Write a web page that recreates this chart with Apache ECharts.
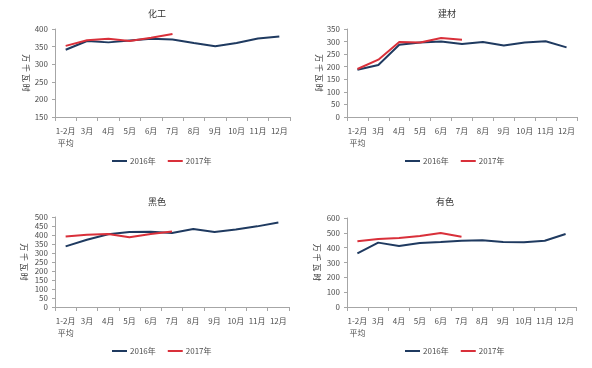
<!DOCTYPE html>
<html><head><meta charset="utf-8">
<script src="https://cdn.jsdelivr.net/npm/echarts@6/dist/echarts.min.js"></script>
<style>html,body{margin:0;padding:0;background:#fff}#c{width:592px;height:368px}</style>
</head><body><div id="c"></div>
<script>
var categories = ['1-2月\n平均','3月','4月','5月','6月','7月','8月','9月','10月','11月','12月'];
var titles = ['化工','建材','黑色','有色'];
var seriesNames = ['2016年','2017年'];
var yUnit = '万 千 瓦 时';
// 化工
var chem2016 = [341,366,362,367,372,370,360,351,360,373,379];
var chem2017 = [352,368,372,366,375,386];
// 建材
var build2016 = [188,207,287,296,300,290,298,284,296,301,277];
var build2017 = [191,228,298,296,314,307];
// 黑色
var ferrous2016 = [337,374,404,417,418,411,433,417,430,448,469];
var ferrous2017 = [391,402,406,387,405,420];
// 有色
var nonfer2016 = [362,434,411,431,438,447,450,438,436,447,492];
var nonfer2017 = [443,458,465,479,499,474];
var yMin = [150,0,0,0];
var yMax = [400,350,500,600];
var yInterval = [50,50,50,100];

var data2016 = [chem2016, build2016, ferrous2016, nonfer2016];
var data2017 = [chem2017, build2017, ferrous2017, nonfer2017];

var grids = [
  {left:55, top:29, width:235, height:88},
  {left:347, top:29, width:230, height:88},
  {left:55, top:217, width:234, height:90},
  {left:347, top:218, width:229, height:89}
];
var nameGaps = [25,22,27,26];
var titlePos = [[152,4],[442,4],[152,192],[440,192]];
var legendPos = [[153,152],[446,152],[153,342],[446,342]];
var C16 = '#1F3A60', C17 = '#D9303A';
var font = 'Noto Sans CJK SC';
var txt = '#4d4d4d';

var option = {
  animation:false,
  textStyle:{fontFamily:font},
  title: titles.map(function(t,i){return {text:t,left:titlePos[i][0],top:titlePos[i][1],textAlign:'center',
    textStyle:{fontSize:9,fontWeight:'normal',color:'#333',fontFamily:font}};}),
  legend: legendPos.map(function(p,i){return {data:seriesNames,left:p[0]-46,top:p[1],itemWidth:15,itemHeight:2,itemGap:12,
    icon:'rect',textStyle:{fontSize:8,color:txt,fontFamily:font,padding:[0,0,0,-2]},selectedMode:false};}),
  grid: grids,
  xAxis: grids.map(function(g,i){return {type:'category',gridIndex:i,data:categories,boundaryGap:true,
    axisLine:{lineStyle:{color:'#a6a6a6'}},axisTick:{show:true,length:4,lineStyle:{color:'#a6a6a6'}},
    axisLabel:{fontSize:8,color:txt,margin:8,interval:0,lineHeight:12,fontFamily:font}};}),
  yAxis: grids.map(function(g,i){return {type:'value',gridIndex:i,min:yMin[i],max:yMax[i],interval:yInterval[i],
    name:yUnit,nameLocation:'middle',nameRotate:-90,nameGap:nameGaps[i],nameTextStyle:{fontSize:8,color:'#333',fontFamily:font},
    axisLine:{show:true,lineStyle:{color:'#a6a6a6'}},axisTick:{show:true,length:3,lineStyle:{color:'#a6a6a6'}},
    splitLine:{show:false},axisLabel:{fontSize:8,color:txt,margin:7,fontFamily:font}};}),
  series: []
};
for (var i=0;i<4;i++){
  option.series.push({name:seriesNames[0],type:'line',xAxisIndex:i,yAxisIndex:i,data:data2016[i],
    symbol:'none',lineStyle:{color:C16,width:2},itemStyle:{color:C16}});
  option.series.push({name:seriesNames[1],type:'line',xAxisIndex:i,yAxisIndex:i,data:data2017[i],
    symbol:'none',lineStyle:{color:C17,width:2},itemStyle:{color:C17}});
}
echarts.init(document.getElementById('c'),null,{renderer:'canvas'}).setOption(option);
</script></body></html>
